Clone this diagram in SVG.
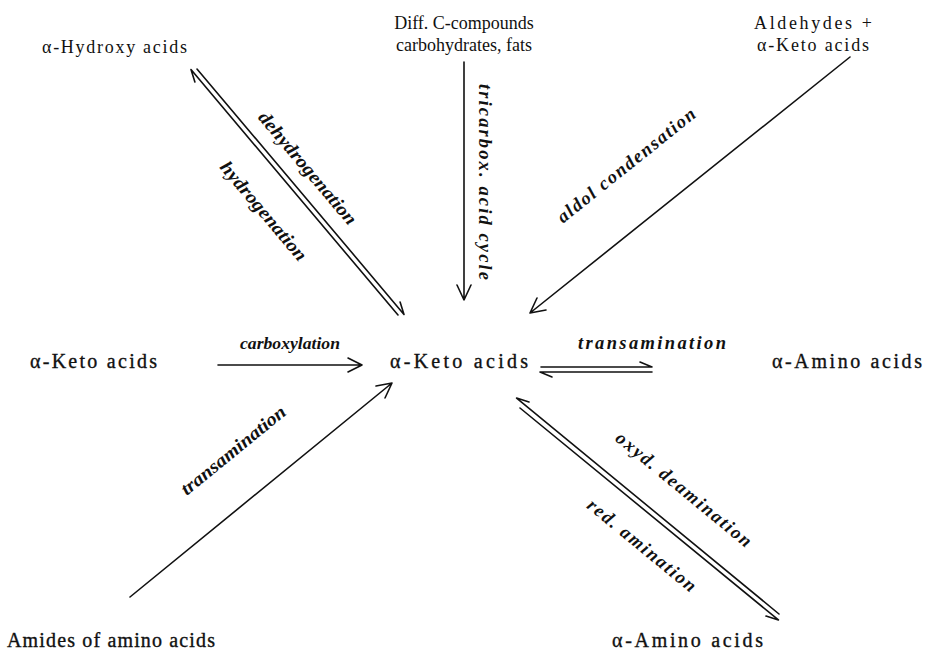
<svg xmlns="http://www.w3.org/2000/svg" width="925" height="653" viewBox="0 0 925 653">
<style>
.n{font-family:"Liberation Serif","DejaVu Serif",serif;font-size:20px;fill:#111;}
.t{font-size:18px;}
.nb{stroke:#111;stroke-width:0.35;}
.l{font-family:"Liberation Serif","DejaVu Serif",serif;font-size:18.5px;font-style:italic;font-weight:bold;fill:#111;text-anchor:middle;}
.c{stroke:#111;stroke-width:1.6;fill:none;stroke-linecap:round;stroke-linejoin:round;}
</style>
<rect width="925" height="653" fill="#fff"/>
<g id="hydroxy"><text class="n t" x="42" y="53" textLength="145" lengthAdjust="spacing">α-Hydroxy acids</text></g>
<g id="diffc"><text class="n t" x="464" y="29" text-anchor="middle">Diff. C-compounds</text><text class="n t" x="464" y="51" text-anchor="middle">carbohydrates, fats</text></g>
<g id="aldehydes"><text class="n t" x="813" y="29" text-anchor="middle" textLength="118" lengthAdjust="spacing">Aldehydes +</text><text class="n t" x="813" y="51" text-anchor="middle" textLength="112" lengthAdjust="spacing">α-Keto acids</text></g>
<g id="keto-left"><text class="n nb" x="30" y="368" textLength="127" lengthAdjust="spacing">α-Keto acids</text></g>
<g id="keto-center"><text class="n nb" x="390" y="368" textLength="138" lengthAdjust="spacing">α-Keto acids</text></g>
<g id="amino-right"><text class="n nb" x="772" y="368" textLength="150" lengthAdjust="spacing">α-Amino acids</text></g>
<g id="amides"><text class="n nb" x="7" y="647" textLength="208" lengthAdjust="spacing">Amides of amino acids</text></g>
<g id="amino-bottom"><text class="n nb" x="612" y="647" textLength="151" lengthAdjust="spacing">α-Amino acids</text></g>
<g id="connectors">
<path class="c" d="M197,69 L404,314.4 M400.1,302 L404,314.4"/>
<path class="c" d="M191,69.6 L398,315 M194.9,82 L191,69.6"/>
<path class="c" d="M464,62 L464,300 M457,285 L464,300 L471,285"/>
<path class="c" d="M850,57 L530,313 M546,310 L530,313 L537,298"/>
<path class="c" d="M218,365 L362,365 M348,358 L362,365 L348,372"/>
<path class="c" d="M541,367 L652,367 L640,362"/>
<path class="c" d="M652,372 L540,372 L552,377"/>
<path class="c" d="M130,597 L392,383 M376,386 L392,383 L385,398"/>
<path class="c" d="M529,401.9 L516.6,398.1 L779,614"/>
<path class="c" d="M520,408 L778.4,619.9 L766,616.1"/>
</g>
<g id="labels">
<text class="l" transform="translate(303,172) rotate(49.9)" textLength="142" lengthAdjust="spacingAndGlyphs">dehydrogenation</text>
<text class="l" transform="translate(259,215) rotate(49.9)" textLength="124" lengthAdjust="spacingAndGlyphs">hydrogenation</text>
<text class="l" transform="translate(479,182) rotate(90)" textLength="196" lengthAdjust="spacing">tricarbox. acid cycle</text>
<text class="l" transform="translate(630,170) rotate(-38.7)" textLength="172" lengthAdjust="spacing">aldol condensation</text>
<text class="l" x="290" y="349" style="font-size:16.5px" textLength="100" lengthAdjust="spacingAndGlyphs">carboxylation</text>
<text class="l" x="652" y="349" textLength="148" lengthAdjust="spacing">transamination</text>
<text class="l" transform="translate(237,455) rotate(-39.2)" textLength="130" lengthAdjust="spacingAndGlyphs">transamination</text>
<text class="l" transform="translate(680,494) rotate(39.4)" textLength="170" lengthAdjust="spacing">oxyd. deamination</text>
<text class="l" transform="translate(638,550) rotate(39.4)" textLength="135" lengthAdjust="spacing">red. amination</text>
</g>
</svg>
